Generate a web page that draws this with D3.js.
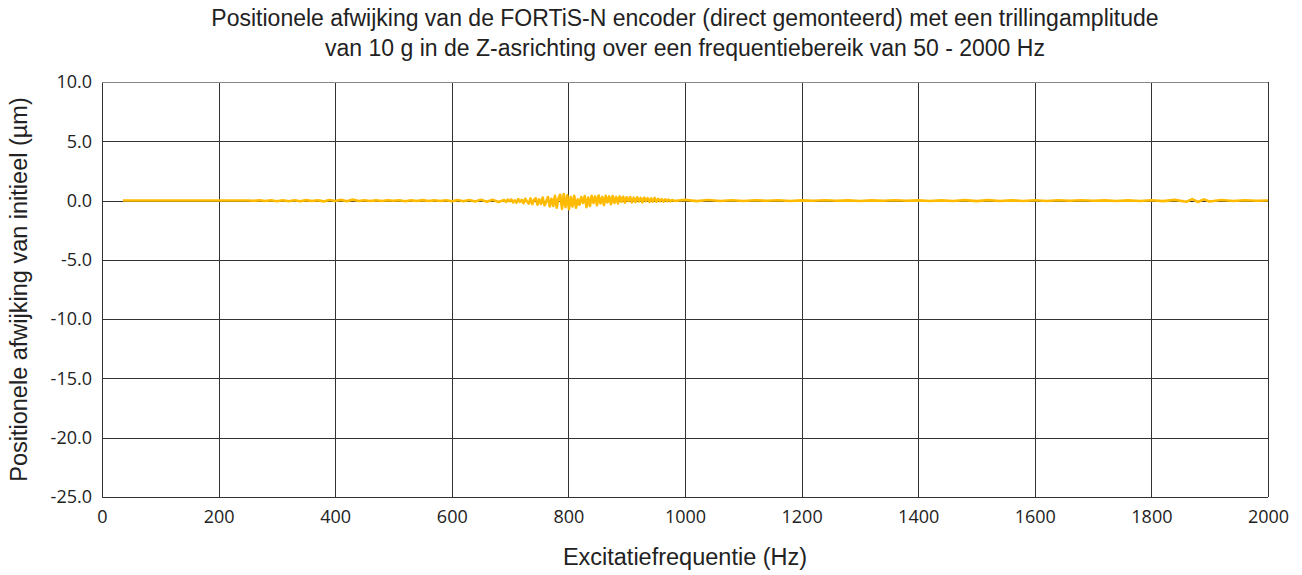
<!DOCTYPE html>
<html>
<head>
<meta charset="utf-8">
<script src="https://cdn.jsdelivr.net/npm/d3@7"></script>
<style>
  body { margin: 0; background: #fff; }
  svg { display: block; }
</style>
</head>
<body>
<script>
// Chart values
const titleLines = [
  'Positionele afwijking van de FORTiS-N encoder (direct gemonteerd) met een trillingamplitude',
  'van 10 g in de Z-asrichting over een frequentiebereik van 50 - 2000 Hz'
];
const xTicks = [0, 200, 400, 600, 800, 1000, 1200, 1400, 1600, 1800, 2000];
const yTicks = [10, 5, 0, -5, -10, -15, -20, -25];

// Excitation frequency (Hz)
const freq = [
  36, 250,
  260, 270, 280, 290, 300, 310, 320, 330, 340, 350,
  360, 370, 380, 390, 400, 410, 420, 430, 440, 450,
  460, 470, 480, 490, 500, 510, 520, 530, 540, 550,
  560, 570, 580, 590, 600, 610, 620, 630, 640, 650,
  660, 670, 680,
  690, 693, 696, 699, 702, 705, 708, 711, 714, 717,
  720, 723, 726, 729, 732, 735, 738, 741, 744, 747,
  750, 753, 756, 759, 762, 765, 768, 771, 774, 777,
  780, 783, 786, 789, 792, 795, 798, 801, 804, 807,
  810, 813, 816, 819, 822, 825, 828, 831, 834, 837,
  840, 843, 846, 849, 852, 855, 858, 861, 864, 867,
  870, 873, 876, 879, 882, 885, 888, 891, 894, 897,
  900, 903, 906, 909, 912, 915, 918, 921, 924, 927,
  930, 933, 936, 939, 942, 945, 948, 951, 954, 957,
  960, 963, 966, 969, 972, 975, 978, 981,
  1000, 1020, 1040, 1060, 1080, 1100, 1120, 1140, 1160, 1180,
  1200, 1220, 1240, 1260, 1280, 1300, 1320, 1340, 1360, 1380,
  1400, 1420, 1440, 1460, 1480, 1500, 1520, 1540, 1560, 1580,
  1600, 1620, 1640, 1660, 1680, 1700, 1720, 1740, 1760, 1780,
  1800, 1820, 1840, 1860, 1870, 1880, 1890, 1900, 1920, 1940,
  1960, 1980, 2000
];
// Position deviation from initial (µm)
const deviation = [
  0.00, 0.00,
  -0.02, 0.02, -0.04, 0.03, -0.05, 0.02, -0.06, 0.03, -0.05, 0.04,
  -0.04, 0.02, -0.07, 0.05, -0.03, 0.06, -0.05, 0.08, -0.04, 0.03,
  -0.03, 0.02, -0.04, 0.03, -0.02, 0.03, -0.05, 0.02, -0.03, 0.04,
  -0.03, 0.02, -0.04, 0.03, -0.05, 0.04, -0.06, 0.05, -0.08, 0.06,
  -0.10, 0.07, -0.12,
  0.05, -0.12, 0.08, -0.05, 0.10, -0.15, 0.02, -0.18, 0.12, -0.10,
  0.06, -0.22, 0.15, -0.08, -0.25, 0.18, -0.30, 0.05, 0.20, -0.35,
  0.10, -0.28, 0.25, -0.40, -0.10, 0.30, -0.50, 0.15, -0.45, 0.40,
  -0.60, 0.20, 0.50, -0.70, 0.55, -0.55, 0.45, -0.72, 0.30, -0.50,
  0.40, -0.60, 0.10, -0.35, 0.30, -0.20, 0.38, -0.55, 0.25, -0.45,
  0.40, -0.20, 0.35, -0.40, 0.42, -0.25, 0.30, -0.38, 0.40, -0.15,
  0.35, -0.30, 0.38, -0.20, 0.30, -0.25, 0.35, -0.10, 0.32, -0.18,
  0.28, -0.05, 0.30, -0.15, 0.25, -0.12, 0.28, -0.08, 0.22, -0.15,
  0.25, -0.05, 0.20, -0.12, 0.18, -0.08, 0.22, -0.10, 0.15, -0.05,
  0.12, -0.08, 0.10, -0.04, 0.08, -0.06, 0.05, -0.03,
  0.06, -0.05, 0.05, -0.04, 0.03, -0.03, 0.03, -0.02, 0.03, -0.03,
  0.02, -0.02, 0.03, -0.02, 0.02, -0.03, 0.02, -0.02, 0.03, -0.02,
  0.02, -0.03, 0.02, -0.03, 0.04, -0.05, 0.04, -0.03, 0.02, -0.03,
  0.03, -0.04, 0.03, -0.02, 0.03, -0.02, 0.02, -0.03, 0.02, -0.03,
  0.03, -0.05, 0.06, -0.10, 0.12, -0.12, 0.10, -0.08, 0.05, -0.04,
  0.03, -0.02, 0.00
];

const svgWidth = 1302;
const svgHeight = 575;
const margin = { top: 82, right: 34, bottom: 78, left: 102 };
const chartWidth = svgWidth - margin.left - margin.right;
const chartHeight = svgHeight - margin.top - margin.bottom;

const svg = d3.select('body')
  .append('svg')
  .attr('width', svgWidth)
  .attr('height', svgHeight);

const chart = svg.append('g')
  .attr('transform', `translate(${margin.left},${margin.top})`);

const xScale = d3.scaleLinear().domain([0, 2000]).range([0, chartWidth]);
const yScale = d3.scaleLinear().domain([-25, 10]).range([chartHeight, 0]);

// Grid lines
chart.append('g')
  .selectAll('line')
  .data(xTicks)
  .enter()
  .append('line')
  .attr('x1', d => Math.round(xScale(d)) + 0.5)
  .attr('x2', d => Math.round(xScale(d)) + 0.5)
  .attr('y1', 0)
  .attr('y2', chartHeight)
  .attr('stroke', '#333')
  .attr('stroke-width', 1);

chart.append('g')
  .selectAll('line')
  .data(yTicks)
  .enter()
  .append('line')
  .attr('x1', 0)
  .attr('x2', chartWidth)
  .attr('y1', d => Math.round(yScale(d)) + 0.5)
  .attr('y2', d => Math.round(yScale(d)) + 0.5)
  .attr('stroke', d => d === 10 ? '#888' : '#333')
  .attr('stroke-width', 1);

// Tick labels via axes (plain hyphen for negatives, like the original)
const yFormat = d => d3.format('.1f')(d).replace('−', '-');

const xAxis = chart.append('g')
  .attr('transform', `translate(0,${chartHeight})`)
  .call(d3.axisBottom(xScale).tickValues(xTicks).tickSize(0).tickPadding(13).tickFormat(d3.format('d')));
const yAxis = chart.append('g')
  .call(d3.axisLeft(yScale).tickValues(yTicks).tickSize(0).tickPadding(10).tickFormat(yFormat));

[xAxis, yAxis].forEach(ax => {
  ax.select('.domain').remove();
  ax.selectAll('text')
    .style('font-family', '"Open Sans", sans-serif')
    .style('font-size', '18px')
    .attr('fill', '#222');
});

// Data line
const line = d3.line()
  .x((d, i) => xScale(freq[i]))
  .y(d => yScale(d));

chart.append('path')
  .datum(deviation)
  .attr('d', line)
  .attr('fill', 'none')
  .attr('stroke', '#FFBB00')
  .attr('stroke-width', 2.6)
  .attr('stroke-linejoin', 'round');

// Title
svg.append('g')
  .selectAll('text')
  .data(titleLines)
  .enter()
  .append('text')
  .attr('x', margin.left + chartWidth / 2)
  .attr('y', (d, i) => 26 + i * 30)
  .attr('text-anchor', 'middle')
  .style('font-family', '"Liberation Sans", Arial, sans-serif')
  .style('font-size', '23px')
  .attr('fill', '#222')
  .text(d => d);

// Axis titles
svg.append('text')
  .attr('x', margin.left + chartWidth / 2)
  .attr('y', 565)
  .attr('text-anchor', 'middle')
  .style('font-family', '"Liberation Sans", Arial, sans-serif')
  .style('font-size', '23.5px')
  .attr('fill', '#222')
  .text('Excitatiefrequentie (Hz)');

svg.append('text')
  .attr('transform', `translate(27,${margin.top + chartHeight / 2}) rotate(-90)`)
  .attr('text-anchor', 'middle')
  .style('font-family', '"Liberation Sans", Arial, sans-serif')
  .style('font-size', '23.5px')
  .attr('fill', '#222')
  .text('Positionele afwijking van initieel (µm)');
</script>
</body>
</html>
